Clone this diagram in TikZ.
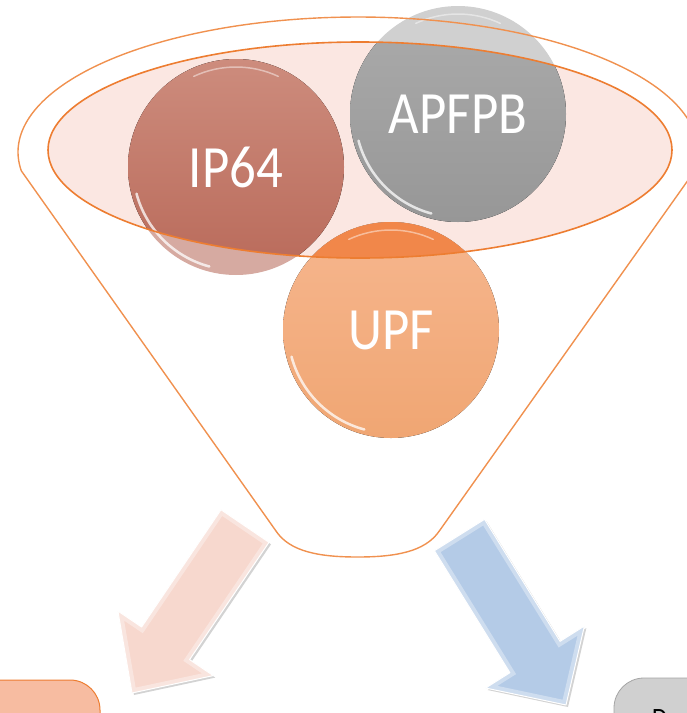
\documentclass[tikz,border=0pt]{standalone}
\usepackage{fontspec}
\newfontfamily\ballfont{Carlito}[FakeStretch=0.88]
\definecolor{FunOrange}{HTML}{ED7D31}
\definecolor{FunLine}{HTML}{F0914F}
\definecolor{RimFill}{HTML}{FBE7E2}
\definecolor{IPTop}{HTML}{CD8C7D}
\definecolor{IPBot}{HTML}{B96A5A}
\definecolor{IPLight}{HTML}{D6AAA1}
\definecolor{APTop}{HTML}{ABABAB}
\definecolor{APBot}{HTML}{979797}
\definecolor{APLight}{HTML}{D0D0D0}
\definecolor{UPTop}{HTML}{F1874A}
\definecolor{UPLightTop}{HTML}{F6B68E}
\definecolor{UPLightBot}{HTML}{F0A673}
\definecolor{ArrPink}{HTML}{F7D8CE}
\definecolor{ArrBlue}{HTML}{B4CBE7}
\definecolor{BoxOrange}{HTML}{F7BCA1}
\definecolor{BoxGray}{HTML}{D0D0D0}
\definecolor{BoxGrayLine}{HTML}{A5A5A5}
\usepackage{tikz}
\usetikzlibrary{shadows}
\newcommand{\pinkarrow}{(221,509.7) -- (269,542.3) -- (189.6,659.6) -- (213.3,675.6)
    -- (132,693) -- (117.9,611) -- (141.6,627) -- cycle}
\newcommand{\bluearrow}{(434.4,550.7) -- (484.6,519.3) -- (560.1,641.3) -- (584.4,626)
    -- (566,705) -- (485.6,688) -- (509.9,672.7) -- cycle}

\begin{document}
\begin{tikzpicture}[x=1pt, y=-1pt,
  ball/.style={circle, minimum size=216pt, inner sep=0pt, text=white,
    font=\ballfont\fontsize{60}{64}\selectfont},
  gloss/.style={white, line width=2.5pt, opacity=0.75, line cap=round},
  blockarrow/.style={draw=white, line width=1pt, line join=round,
    drop shadow={opacity=0.35, shadow xshift=2pt, shadow yshift=-2pt}},
  bevel/.style={white, line width=9pt, opacity=0.35, line join=miter}]
  \useasboundingbox (0,0) rectangle (687,713);
  % rim of the funnel
  \fill[RimFill] (360,150) ellipse [x radius=312, y radius=108];
  % balls, lighter outside the rim
  \fill[IPLight] (236,167) circle (108);
  \fill[APLight] (458,114) circle (108);
  \fill[top color=UPLightTop, bottom color=UPLightBot] (391,330) circle (108);
  \begin{scope}
    \clip (360,150) ellipse [x radius=312, y radius=108];
    \fill[top color=IPTop, bottom color=IPBot] (236,167) circle (108);
    \fill[top color=APTop, bottom color=APBot] (458,114) circle (108);
    \fill[UPTop] (391,330) circle (108);
  \end{scope}
  \node[ball] (ip) at (236,167) {IP64};
  \node[ball] (apfpb) at (458,114) {APFPB};
  \node[ball] (upf) at (391,330) {UPF};
  \draw[gloss] (ip.center) ++(105:103) arc[start angle=105, end angle=165, radius=103];
  \draw[gloss] (apfpb.center) ++(105:103) arc[start angle=105, end angle=165, radius=103];
  \draw[gloss] (upf.center) ++(105:103) arc[start angle=105, end angle=165, radius=103];
  \draw[gloss, opacity=0.45, line width=1.5pt] (ip.center) ++(245:100) arc[start angle=245, end angle=295, radius=100];
  \draw[gloss, opacity=0.45, line width=1.5pt] (apfpb.center) ++(245:100) arc[start angle=245, end angle=295, radius=100];
  \draw[gloss, opacity=0.45, line width=1.5pt] (upf.center) ++(245:100) arc[start angle=245, end angle=295, radius=100];
  % outlines
  \draw[FunOrange, line width=1.6pt] (360,150) ellipse [x radius=312, y radius=108];
  \draw[FunLine, line width=1.4pt, line join=round] (21.3,170.8) -- (276,531)
    .. controls (290,552) and (320,557) .. (357.5,557)
    .. controls (395,557) and (425,552) .. (439.3,531)
    -- (694.7,170.8) arc[start angle=8, end angle=-188, x radius=340, y radius=135];
  % arrows
  \fill[ArrPink, blockarrow] \pinkarrow;
  \begin{scope}
    \clip \pinkarrow;
    \draw[bevel] \pinkarrow;
  \end{scope}
  \fill[ArrBlue, blockarrow] \bluearrow;
  \begin{scope}
    \clip \bluearrow;
    \draw[bevel] \bluearrow;
  \end{scope}
  % boxes at the bottom
  \draw[FunOrange, fill=BoxOrange, line width=1pt, rounded corners=30pt] (-40,680) rectangle (100,780);
  \draw[BoxGrayLine, fill=BoxGray, line width=0.8pt, rounded corners=30pt] (614,678) rectangle (760,780);
  \node[anchor=north west, inner sep=0pt, font=\ballfont\fontsize{28}{30}\selectfont] (dtxt) at (652,709) {D};
\end{tikzpicture}
\end{document}
